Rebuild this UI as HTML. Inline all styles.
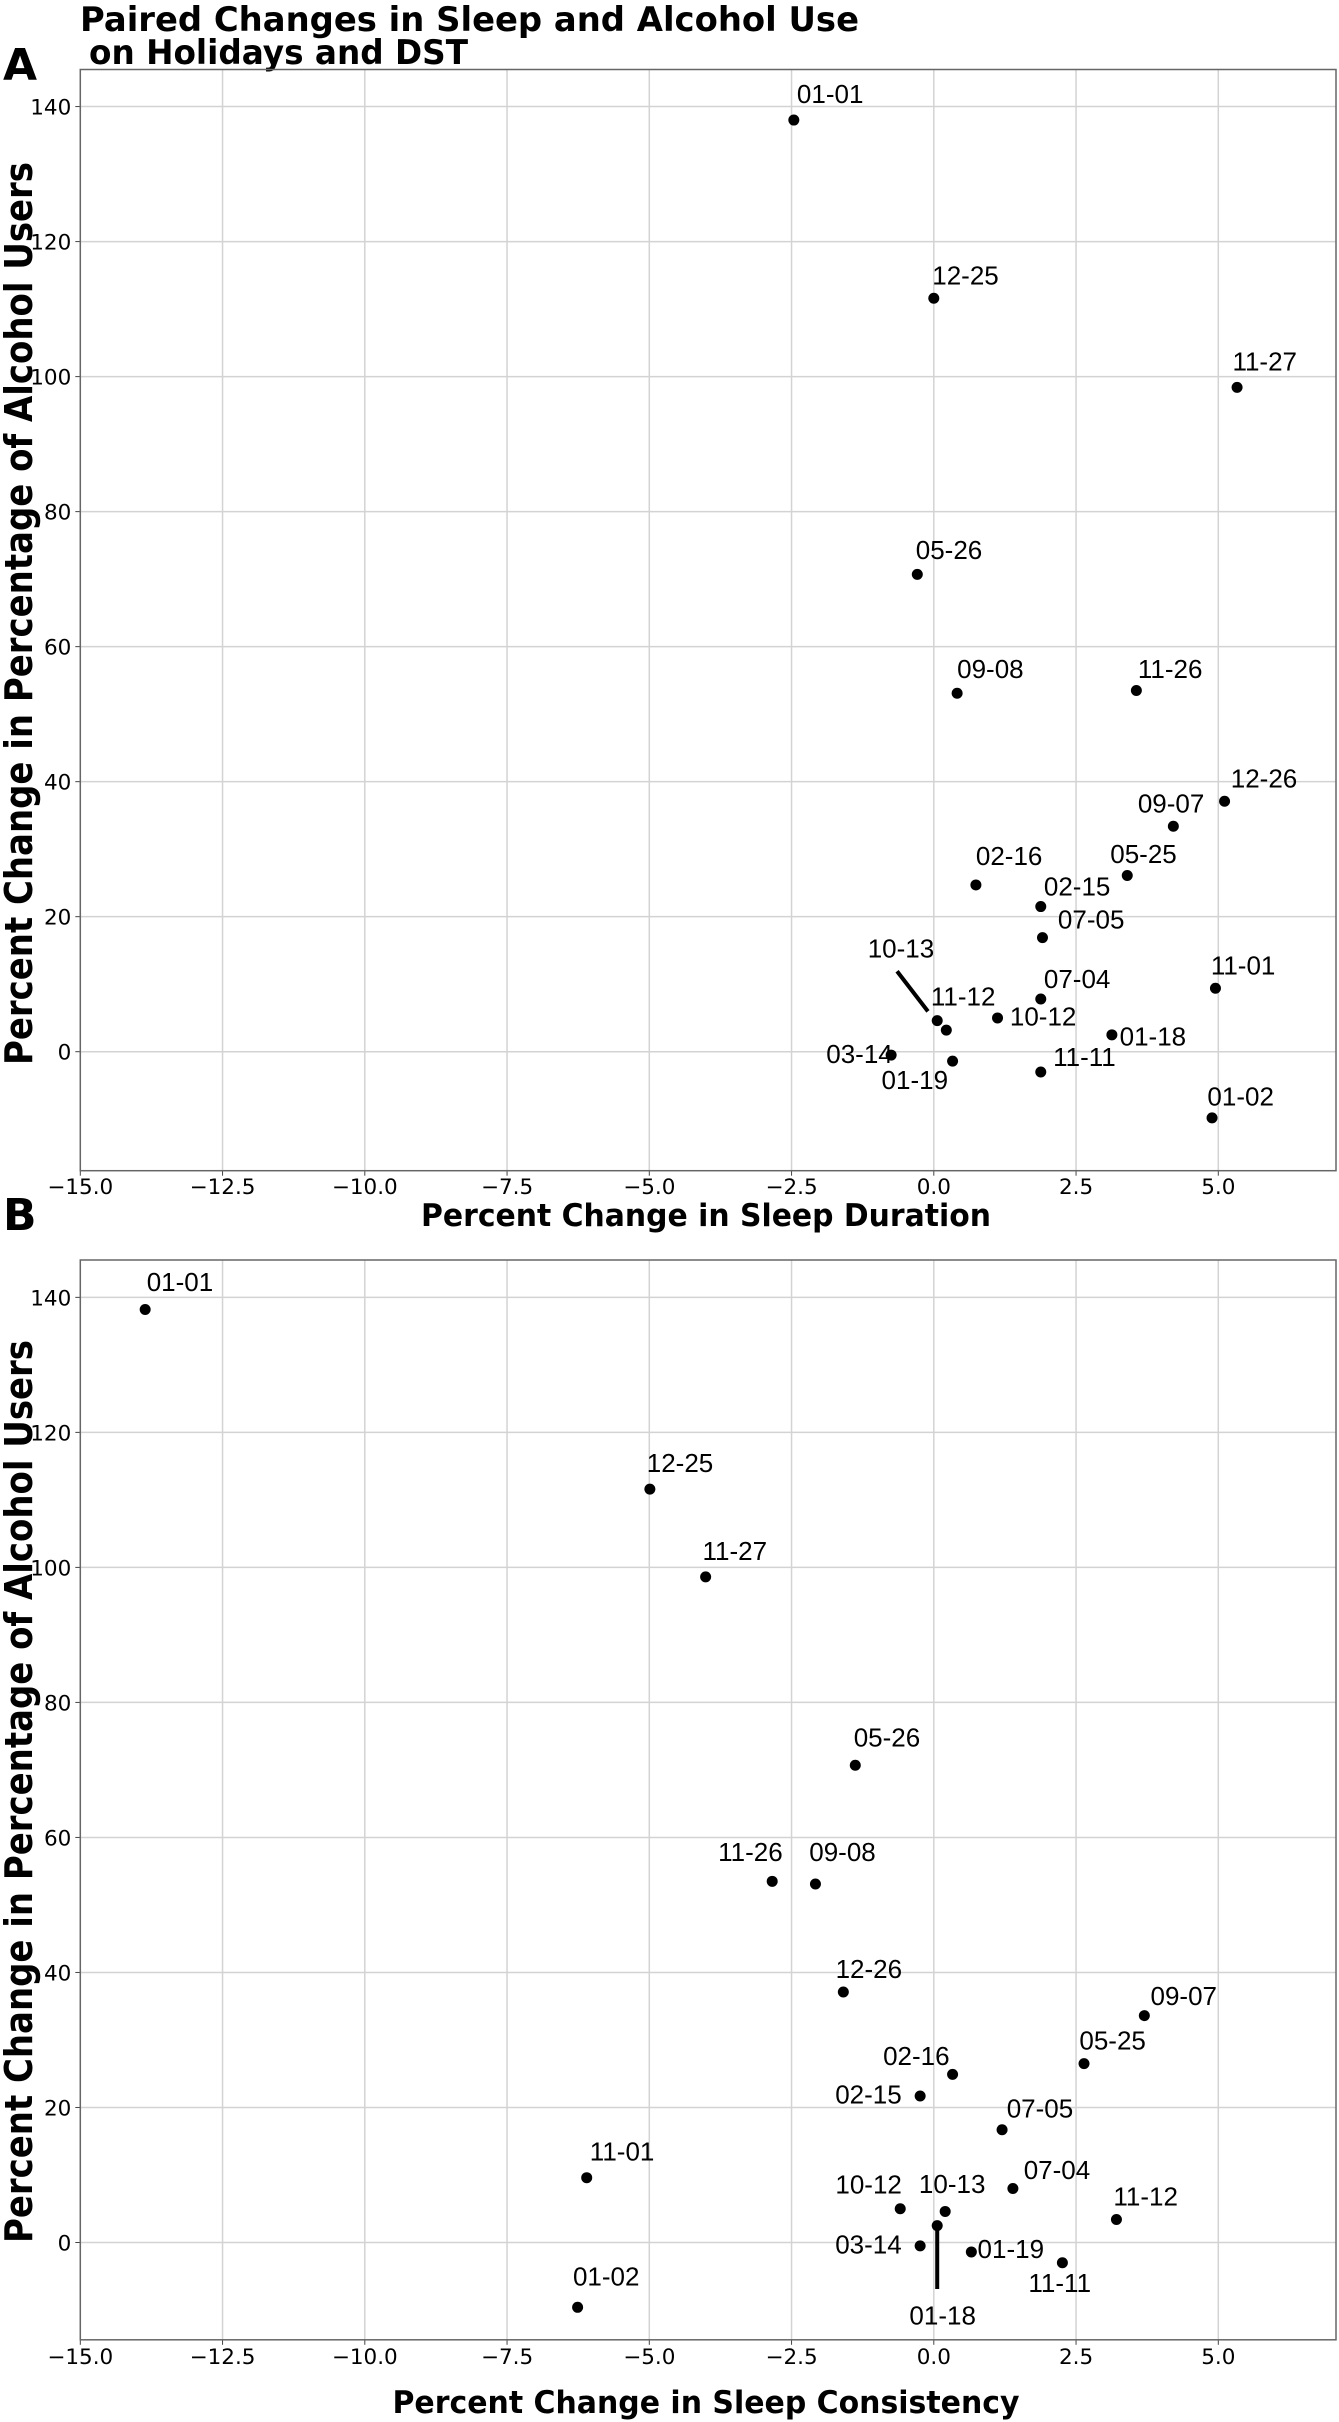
<!DOCTYPE html>
<html><head><meta charset="utf-8"><style>
html,body{margin:0;padding:0;background:#fff;}
svg{display:block;font-family:"DejaVu Sans","Liberation Sans",sans-serif;}
</style></head><body>
<svg id="fig" width="1339" height="2422" viewBox="0 0 1339 2422" xmlns="http://www.w3.org/2000/svg">
<text x="80" y="31" font-size="34" font-weight="bold" textLength="779" lengthAdjust="spacingAndGlyphs">Paired Changes in Sleep and Alcohol Use</text>
<text x="89" y="64" font-size="34" font-weight="bold" textLength="379" lengthAdjust="spacingAndGlyphs">on Holidays and DST</text>
<text x="3" y="80" font-size="44" font-weight="bold">A</text>
<text x="3" y="1230" font-size="44" font-weight="bold">B</text>
</svg>
<script>
const labelsA = ["01-01","12-25","11-27","05-26","09-08","11-26","12-26","09-07","05-25","02-16","02-15","07-05","11-01","07-04","10-13","11-12","10-12","03-14","01-19","11-11","01-18","01-02"];
const durationA = [-2.46,0.0,5.33,-0.29,0.41,3.56,5.11,4.21,3.40,0.74,1.88,1.91,4.95,1.88,0.06,0.22,1.12,-0.75,0.33,1.88,3.13,4.89];
const alcoholA = [138,111.6,98.4,70.7,53.1,53.5,37.1,33.4,26.1,24.7,21.5,16.9,9.4,7.8,4.6,3.2,5.0,-0.5,-1.4,-3.0,2.5,-9.8];
const labelsB = ["01-01","12-25","11-27","05-26","11-26","09-08","12-26","09-07","05-25","02-16","02-15","07-05","11-01","07-04","10-12","10-13","11-12","01-18","03-14","01-19","11-11","01-02"];
const consistencyB = [-13.86,-4.99,-4.01,-1.38,-2.84,-2.08,-1.59,3.70,2.64,0.33,-0.24,1.20,-6.10,1.39,-0.59,0.2,3.21,0.06,-0.24,0.66,2.26,-6.26];
const alcoholB = [138.2,111.6,98.6,70.7,53.5,53.1,37.1,33.6,26.5,24.9,21.7,16.7,9.6,8.0,5.0,4.6,3.4,2.5,-0.5,-1.4,-3.0,-9.6];
const xTicks = [-15,-12.5,-10,-7.5,-5,-2.5,0,2.5,5];
const yTicks = [0,20,40,60,80,100,120,140];

// label offsets (layout only, in reduced units)
const offA = {"01-01":[2,-11],"12-25":[-1,-9],"11-27":[-3,-11],"05-26":[-1,-10],"09-08":[0,-10],"11-26":[1,-8],"12-26":[4,-9],"09-07":[-23,-9],"05-25":[-11,-8],"02-16":[0,-13],"02-15":[2,-7],"07-05":[10,-6],"11-01":[-3,-9],"07-04":[2,-7],"10-13":[-45,-41],"11-12":[-10,-16],"10-12":[8,5],"03-14":[-42,5],"01-19":[-46,18],"11-11":[8,-4],"01-18":[5,7],"01-02":[-3,-8]};
const offB = {"01-01":[1,-12],"12-25":[-2,-11],"11-27":[-2,-11],"05-26":[-1,-12],"11-26":[-35,-13],"09-08":[-4,-15],"12-26":[-5,-9],"09-07":[4,-7],"05-25":[-3,-9],"02-16":[-45,-6],"02-15":[-55,5],"07-05":[3,-8],"11-01":[2,-11],"07-04":[7,-6],"10-12":[-42,-10],"10-13":[-17,-12],"11-12":[-2,-9],"01-18":[-18,64],"03-14":[-55,5],"01-19":[4,4],"11-11":[-22,19],"01-02":[-3,-14]};
const S = 1.5444;
const NS = "http://www.w3.org/2000/svg";
const svg = document.getElementById('fig');
function mk(tag, attrs, parent){const e=document.createElementNS(NS,tag);for(const k in attrs)e.setAttribute(k,attrs[k]);(parent||svg).appendChild(e);return e;}

function panel(cfg){
  const g = mk('g',{});
  
  
  const L=80.3,R=1336,T=cfg.top,B=cfg.bottom;
  const xs = v => L + (v+15)*56.9;
  const ys = v => cfg.y0 - v*6.751;
  for(const t of xTicks){
    const l=mk('line',{x1:xs(t),x2:xs(t),y1:T,y2:B,stroke:'#d3d3d3','stroke-width':1.5},g);
    
    
    mk('line',{x1:xs(t),x2:xs(t),y1:B,y2:B+5,stroke:'#444','stroke-width':1},g);
    const tx=mk('text',{x:xs(t),y:cfg.tickY,'font-size':21.5,'text-anchor':'middle'},g);
    tx.textContent=t.toFixed(1).replace('-','\u2212');
    
    
  }
  for(const t of yTicks){
    const l=mk('line',{x1:L,x2:R,y1:ys(t),y2:ys(t),stroke:'#d3d3d3','stroke-width':1.5},g);
    
    
    mk('line',{x1:L-5,x2:L,y1:ys(t),y2:ys(t),stroke:'#444','stroke-width':1},g);
    const tx=mk('text',{x:L-9,y:ys(t)+8,'font-size':21.5,'text-anchor':'end'},g);
    tx.textContent=t;
    
    
  }
  const fr=mk('rect',{x:L,y:T,width:R-L,height:B-T,fill:'none',stroke:'#666','stroke-width':1.5},g);
  
  
  for(let i=0;i<cfg.labels.length;i++){
    const px=xs(cfg.xv[i]),py=ys(cfg.yv[i]);
    const name=cfg.labels[i];
    const o=cfg.off[name];
    if(cfg.leader[name]){
      const ld=cfg.leader[name];
      const ln=mk('line',{x1:px+ld[0]*S,y1:py+ld[1]*S,x2:px+ld[2]*S,y2:py+ld[3]*S,stroke:'#000','stroke-width':4},g);
      
      
    }
    const c=mk('circle',{cx:px,cy:py,r:5.5,fill:'#000'},g);
    
    
    const t=mk('text',{x:px+o[0]*S,y:py+o[1]*S,'font-size':26,'font-family':'Liberation Sans, sans-serif'},g);
    t.textContent=name;
    
    
  }
  const xl=mk('text',{x:706-cfg.xlabW/2,y:cfg.xlabY,'font-size':31,'font-weight':'bold',textLength:cfg.xlabW,lengthAdjust:'spacingAndGlyphs'},g);
  xl.textContent=cfg.xlabel;
  
  
  const yl=mk('text',{x:-451,y:0,'font-size':38,'font-weight':'bold',textLength:903,lengthAdjust:'spacingAndGlyphs',transform:`translate(32,${cfg.ylabC}) rotate(-90)`},g);
  yl.textContent='Percent Change in Percentage of Alcohol Users';
  
  
}
panel({name:'panel-a-chart',top:69.5,bottom:1170.7,y0:1051.7,tickY:1194,xlabY:1226,xlabW:570,ylabC:614,labels:labelsA,xv:durationA,yv:alcoholA,off:offA,leader:{"10-13":[-26,-32,-6,-6]},xlabel:'Percent Change in Sleep Duration'});
panel({name:'panel-b-chart',top:1260,bottom:2339.8,y0:2242.5,tickY:2364,xlabY:2413,xlabW:627,ylabC:1792,labels:labelsB,xv:consistencyB,yv:alcoholB,off:offB,leader:{"01-18":[0,-3,0,41]},xlabel:'Percent Change in Sleep Consistency'});
</script>
</body></html>
